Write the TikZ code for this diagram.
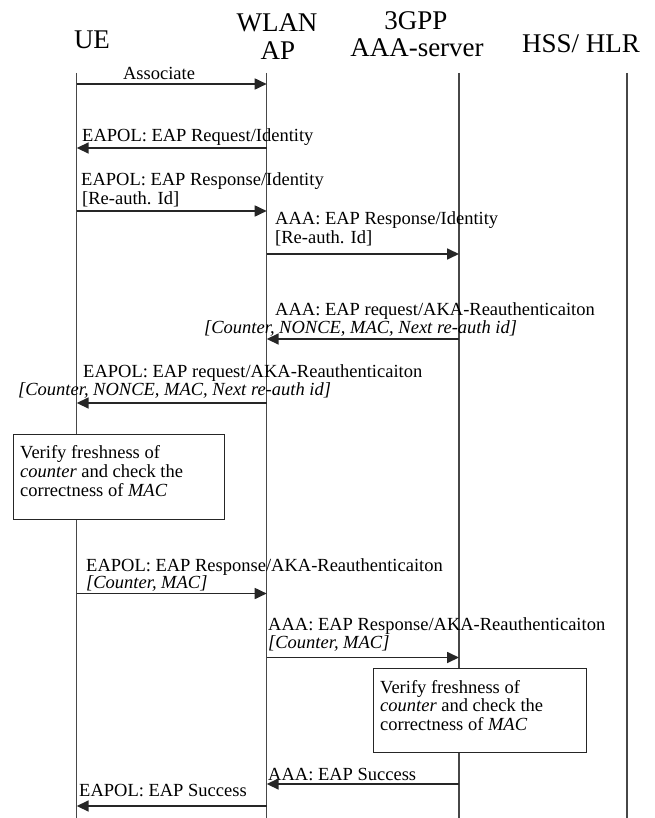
\documentclass[tikz,border=0pt]{standalone}
\usepackage{fontspec}
\setmainfont{Liberation Serif}
\usetikzlibrary{arrows.meta}
\begin{document}
\begin{tikzpicture}[x=1pt,y=-1pt,
  lifeline/.style={line width=1.4pt, draw=black!72},
  msg/.style={line width=1.7pt, draw=black!85,
    -{Triangle[length=12pt,width=11pt]}},
  lbl/.style={inner sep=0pt, anchor=base west, font=\fontsize{18.5}{19}\selectfont},
  hdr/.style={inner sep=0pt, anchor=base, font=\fontsize{27}{28}\selectfont},
  notebox/.style={draw=black!85, line width=1.3pt, fill=white, inner sep=0pt,
    anchor=north west}]

\useasboundingbox (0,0) rectangle (654,818);

% participants
\node[hdr] (hUE)   at (92,49)  {UE};
\node[hdr] (hWLAN) at (277,32) {WLAN};
\node[hdr] (hAP)   at (278,60) {AP};
\node[hdr] (h3GPP) at (416,30) {3GPP};
\node[hdr] (hAAA)  at (417,57) {AAA-server};
\node[hdr] (hHSS)  at (581,53) {HSS/ HLR};

% lifelines
\coordinate (ue)  at (76.7,73);
\coordinate (ap)  at (266.7,73);
\coordinate (aaa) at (459,73);
\coordinate (hss) at (627,73);
\coordinate (bot) at (0,818);
\foreach \p in {ue,ap,aaa,hss}
  \draw[lifeline] (\p) -- (\p |- bot);

% message rows
\coordinate (y1)  at (0,84);
\coordinate (y2)  at (0,148);
\coordinate (y3)  at (0,211);
\coordinate (y4)  at (0,254);
\coordinate (y5)  at (0,339);
\coordinate (y6)  at (0,403);
\coordinate (y8)  at (0,593.5);
\coordinate (y9)  at (0,657.5);
\coordinate (y11) at (0,784);
\coordinate (y12) at (0,806);

% notes
\node[notebox, minimum width=211.5pt, minimum height=85pt] (note1) at (12.5,434) {};
\node[lbl] (note1a) at (20,458) {Verify freshness of};
\node[lbl] (note1b) at (20,477) {\textit{counter} and check the};
\node[lbl] (note1c) at (20,496) {correctness of \textit{MAC}};

\node[notebox, minimum width=212.5pt, minimum height=84pt] (note2) at (373,668) {};
\node[lbl] (note2a) at (380,693) {Verify freshness of};
\node[lbl] (note2b) at (380,711.5) {\textit{counter} and check the};
\node[lbl] (note2c) at (380,730) {correctness of \textit{MAC}};

% labels
\node[lbl, anchor=base] (l1) at (159,80) {Associate};
\node[lbl] (l2)  at (82,142)  {EAPOL: EAP Request/Identity};
\node[lbl] (l3a) at (81,186)  {EAPOL: EAP Response/Identity};
\node[lbl] (l3b) at (82,205)  {[Re-auth. Id]};
\node[lbl] (l4a) at (275,225) {AAA: EAP Response/Identity};
\node[lbl] (l4b) at (275,243) {[Re-auth. Id]};
\node[lbl] (l5a) at (275,315) {AAA: EAP request/AKA-Reauthenticaiton};
\node[lbl] (l5b) at (204,333) {\textit{[Counter, NONCE, MAC, Next re-auth id]}};
\node[lbl] (l6a) at (83,377)  {EAPOL: EAP request/AKA-Reauthenticaiton};
\node[lbl] (l6b) at (18,395)  {\textit{[Counter, NONCE, MAC, Next re-auth id]}};
\node[lbl] (l8a) at (86,571)  {EAPOL: EAP Response/AKA-Reauthenticaiton};
\node[lbl] (l8b) at (86,588)  {\textit{[Counter, MAC]}};
\node[lbl] (l9a) at (268,630) {AAA: EAP Response/AKA-Reauthenticaiton};
\node[lbl] (l9b) at (268,648) {\textit{[Counter, MAC]}};
\node[lbl] (l11) at (268,780) {AAA: EAP Success};
\node[lbl] (l12) at (79,796)  {EAPOL: EAP Success};

% messages
\draw[msg] (ue |- y1)   -- (ap |- y1);
\draw[msg] (ap |- y2)   -- (ue |- y2);
\draw[msg] (ue |- y3)   -- (ap |- y3);
\draw[msg] (ap |- y4)   -- (aaa |- y4);
\draw[msg] (aaa |- y5)  -- (ap |- y5);
\draw[msg] (ap |- y6)   -- (ue |- y6);
\draw[msg] (ue |- y8)   -- (ap |- y8);
\draw[msg] (ap |- y9)   -- (aaa |- y9);
\draw[msg] (aaa |- y11) -- (ap |- y11);
\draw[msg] (ap |- y12)  -- (ue |- y12);
\end{tikzpicture}
\end{document}
